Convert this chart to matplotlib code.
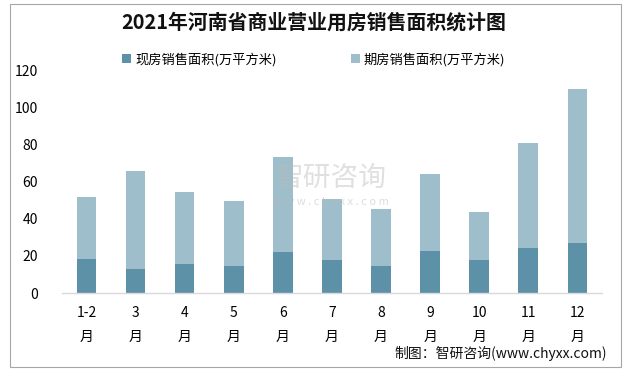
import matplotlib
matplotlib.use("Agg")
import matplotlib.pyplot as plt
from matplotlib.patches import Patch, Rectangle

plt.rcParams['font.family'] = ['Noto Sans CJK SC', 'DejaVu Sans']

categories = ["1-2\n月", "3\n月", "4\n月", "5\n月", "6\n月", "7\n月", "8\n月", "9\n月", "10\n月", "11\n月", "12\n月"]
current = [18.4, 13.0, 15.7, 14.7, 22.2, 17.9, 14.7, 22.7, 17.9, 24.3, 27.0]
total = [51.7, 65.7, 54.4, 49.6, 73.2, 50.7, 45.3, 64.1, 43.7, 80.8, 109.8]
forward = [round(t - c, 1) for t, c in zip(total, current)]
yticks = [0, 20, 40, 60, 80, 100, 120]

c_dark = "#5D91A8"
c_light = "#9EBECB"

fig = plt.figure(figsize=(6.31, 3.71), dpi=100)
ax = fig.add_axes([0.098, 0.210, 0.856, 0.601])

x = list(range(len(categories)))
ax.bar(x, current, width=0.4, color=c_dark, zorder=2)
ax.bar(x, forward, width=0.4, bottom=current, color=c_light, zorder=2)

ax.set_xlim(-0.5, len(categories) - 0.5)
ax.set_ylim(0, 120)
ax.set_yticks(yticks)
ax.set_yticklabels([str(v) for v in yticks], fontsize=10)
ax.set_xticks(x)
ax.set_xticklabels(categories, fontsize=10, linespacing=1.95)
ax.tick_params(axis='both', length=0)
ax.tick_params(axis='y', pad=17)
ax.tick_params(axis='x', pad=9)
for s in ['top', 'right', 'left']:
    ax.spines[s].set_visible(False)
ax.spines['bottom'].set_color('#D9D9D9')
ax.spines['bottom'].set_linewidth(1.0)

fig.text(0.497, 0.94, "2021年河南省商业营业用房销售面积统计图", ha='center', va='center',
         fontsize=14.3, fontweight='bold', color='#111111')

handles = [Patch(facecolor=c_dark), Patch(facecolor=c_light)]
labels = ["现房销售面积(万平方米)", "期房销售面积(万平方米)"]
fig.legend(handles, labels, loc='center', bbox_to_anchor=(0.497, 0.84), ncol=2, frameon=False,
           fontsize=9.5, handlelength=0.7, handleheight=0.7, handletextpad=0.3, columnspacing=5.6)

fig.text(0.962, 0.048, "制图：智研咨询(www.chyxx.com)", ha='right', va='center', fontsize=10, color='#111111')

# watermark
fig.text(0.525, 0.52, "智研咨询", ha='center', va='center', fontsize=20, color='#BBBBBB', alpha=0.45)
fig.text(0.525, 0.455, "w w w . c h y x x . c o m", ha='center', va='center', fontsize=8, color='#BBBBBB', alpha=0.5)

fig.patches.append(Rectangle((0.016, 0.01), 0.968, 0.98, transform=fig.transFigure,
                             fill=False, edgecolor='#A6A6A6', linewidth=0.8))

fig.savefig("out.png", dpi=100)
